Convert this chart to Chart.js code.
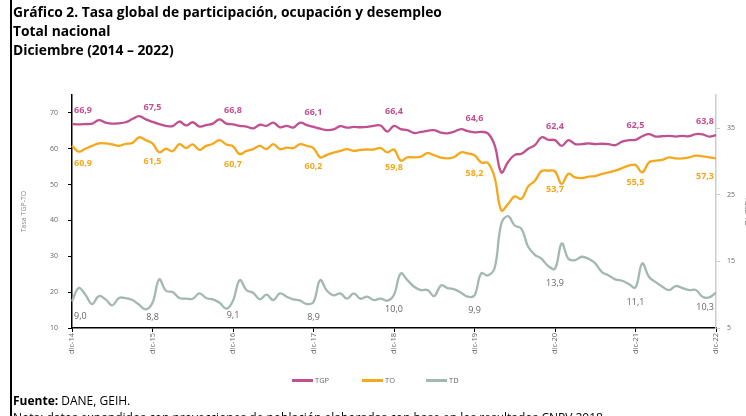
<!DOCTYPE html>
<html>
<head>
<meta charset="utf-8">
<script src="https://cdn.jsdelivr.net/npm/chart.js@4.4.0/dist/chart.umd.min.js"></script>
<style>
  html, body { margin: 0; padding: 0; background: #fff; overflow: hidden; width: 746px; height: 416px; }
  #grafico { position: absolute; left: 0; top: 0; }
  .borde { position: absolute; left: 10px; top: 0; width: 2px; height: 416px; background: #000; }
  .texto { position: absolute; left: 13px; font-family: "Open Sans", sans-serif; color: #000; white-space: nowrap; }
  .titulo { font-weight: 700; font-size: 13.8px; line-height: 16px; }
  .fuente { font-size: 12px; line-height: 14px; }
  .leyenda { position: absolute; top: 375px; font-family: "Open Sans", sans-serif; font-size: 7.5px; color: #666; display: flex; align-items: center; }
  .leyenda span.linea { display: inline-block; width: 21px; height: 3px; margin-right: 2px; }
</style>
</head>
<body>
<canvas id="grafico" width="770" height="416"></canvas>
<div class="borde"></div>
<div class="texto titulo" style="top:4px">Gráfico 2. Tasa global de participación, ocupación y desempleo</div>
<div class="texto titulo" style="top:23px">Total nacional</div>
<div class="texto titulo" style="top:42px">Diciembre (2014 – 2022)</div>
<div class="leyenda" style="left:292px"><span class="linea" style="background:#C0508F"></span>TGP</div>
<div class="leyenda" style="left:362px"><span class="linea" style="background:#F5A81C"></span>TO</div>
<div class="leyenda" style="left:426px"><span class="linea" style="background:#A3B8B1"></span>TD</div>
<div class="texto fuente" style="top:394px"><b>Fuente:</b> DANE, GEIH.</div>
<div class="texto fuente" style="top:411px">Nota: datos expandidos con proyecciones de población elaboradas con base en los resultados CNPV 2018.</div>
<script>
const meses = ["dic", "ene", "feb", "mar", "abr", "may", "jun", "jul", "ago", "sep", "oct", "nov"];

// dic-14 .. dic-22, mensual
const tgp = [66.9,
  66.8, 66.9, 67.0, 68.0, 67.3, 67.0, 67.1, 67.4, 68.3, 69.1, 68.2, 67.5,
  66.9, 66.4, 66.3, 67.6, 66.5, 67.4, 66.2, 66.6, 67.0, 68.2, 67.0, 66.8,
  66.4, 66.2, 65.7, 66.7, 66.4, 67.3, 66.0, 66.4, 65.9, 67.3, 66.6, 66.1,
  65.6, 65.2, 65.4, 66.3, 65.9, 66.1, 66.0, 66.1, 66.4, 66.5, 64.8, 66.4,
  65.5, 65.2, 64.4, 64.7, 65.0, 65.2, 64.5, 64.3, 64.8, 65.5, 64.9, 64.6,
  64.7, 64.3, 61.0, 53.4, 56.3, 58.3, 58.6, 60.0, 61.0, 63.2, 62.5, 62.4,
  60.8, 62.4, 61.3, 61.3, 61.5, 61.3, 61.4, 61.3, 61.0, 62.0, 62.4, 62.5,
  63.5, 64.1, 63.4, 63.5, 63.6, 63.4, 63.6, 63.5, 64.1, 64.0, 63.4, 63.8];

const to = [60.9,
  59.2, 60.0, 60.8, 61.5, 61.5, 61.2, 60.8, 61.4, 61.6, 63.2, 62.4, 61.5,
  59.0, 60.0, 59.3, 61.3, 60.2, 61.2, 59.7, 60.8, 61.4, 62.4, 61.2, 60.7,
  58.5, 59.4, 59.9, 60.8, 59.9, 61.3, 59.9, 60.3, 60.2, 61.3, 60.8, 60.2,
  57.6, 58.3, 58.9, 59.4, 59.9, 59.4, 59.7, 59.8, 59.8, 60.2, 59.0, 59.8,
  56.7, 57.6, 57.6, 57.8, 58.8, 58.2, 57.5, 57.3, 57.7, 59.0, 58.7, 58.2,
  56.2, 56.0, 52.0, 42.8, 44.6, 46.7, 46.0, 49.5, 51.1, 53.8, 53.9, 53.7,
  50.2, 53.0, 52.0, 51.8, 52.2, 52.4, 53.0, 53.4, 53.9, 54.6, 55.3, 55.5,
  53.4, 56.2, 56.7, 56.9, 57.6, 57.3, 57.3, 57.6, 58.1, 57.9, 57.6, 57.3];

const td = [9.0,
  11.0, 10.0, 8.6, 9.8, 9.3, 8.4, 9.5, 9.5, 9.2, 8.5, 7.8, 8.8,
  12.3, 10.6, 10.4, 9.5, 9.4, 9.4, 10.2, 9.5, 9.3, 8.8, 7.9, 9.1,
  12.2, 10.7, 10.3, 9.3, 10.0, 9.2, 10.2, 9.7, 9.3, 9.1, 8.6, 8.9,
  12.2, 10.6, 9.9, 10.2, 9.4, 10.2, 9.4, 9.7, 9.2, 9.4, 9.1, 10.0,
  13.2, 12.2, 11.2, 10.7, 10.7, 9.8, 11.4, 11.0, 10.8, 10.3, 9.7, 9.9,
  13.2, 12.9, 14.0, 20.7, 21.8, 20.4, 19.9, 17.2, 16.0, 15.4, 14.3, 13.9,
  17.7, 15.4, 15.2, 15.7, 15.4, 14.7, 13.4, 12.9, 12.3, 12.1, 11.6, 11.1,
  14.7, 12.7, 11.9, 11.2, 10.7, 11.3, 11.0, 10.7, 10.7, 9.7, 9.6, 10.3];

const ticksIzq = [10, 20, 30, 40, 50, 60, 70];
const ticksDer = [5, 15, 25, 35];

const labels = tgp.map((v, i) => meses[i % 12] + "-" + (14 + Math.ceil(i / 12)));

// etiquetas de diciembre sobre cada serie
const etiquetasDic = {
  id: "etiquetasDic",
  afterDatasetsDraw(chart) {
    const ctx = chart.ctx;
    const area = chart.chartArea;
    chart.data.datasets.forEach((ds, i) => {
      const meta = chart.getDatasetMeta(i);
      ctx.save();
      ctx.font = ds.etiqueta.font;
      ctx.fillStyle = ds.etiqueta.color;
      ctx.textAlign = "center";
      ctx.textBaseline = "middle";
      meta.data.forEach((pt, j) => {
        if (j % 12 !== 0) return;
        const txt = ds.data[j].toFixed(1).replace(".", ",");
        const w = ctx.measureText(txt).width;
        const x = Math.min(Math.max(pt.x, area.left + w / 2 + 2), area.right - w / 2 - 2);
        ctx.fillText(txt, x, pt.y + ds.etiqueta.dy);
      });
      ctx.restore();
    });
  }
};

const ctx = document.getElementById("grafico").getContext("2d");

new Chart(ctx, {
  type: "line",
  data: {
    labels: labels,
    datasets: [
      {
        label: "TGP",
        data: tgp,
        yAxisID: "y",
        borderColor: "#C0508F",
        etiqueta: { font: "bold 9px 'Open Sans'", color: "#C0508F", dy: -14 }
      },
      {
        label: "TO",
        data: to,
        yAxisID: "y",
        borderColor: "#F5A81C",
        etiqueta: { font: "bold 9px 'Open Sans'", color: "#F5A81C", dy: 18 }
      },
      {
        label: "TD",
        data: td,
        yAxisID: "y2",
        borderColor: "#A3B8B1",
        etiqueta: { font: "9px 'Open Sans'", color: "#666", dy: 15 }
      }
    ]
  },
  options: {
    responsive: false,
    animation: false,
    layout: { padding: { left: 18, top: 95, right: 0, bottom: 0 } },
    elements: {
      point: { radius: 0 },
      line: { tension: 0.4, borderWidth: 2.3, fill: false }
    },
    plugins: {
      legend: { display: false },
      tooltip: { enabled: false }
    },
    scales: {
      x: {
        grid: {
          drawOnChartArea: false,
          tickLength: 4,
          color: (c) => (c.index % 12 === 0 ? "#000" : "transparent")
        },
        border: { color: "#000", width: 1.5 },
        ticks: {
          autoSkip: false,
          maxRotation: 90,
          minRotation: 90,
          padding: 1,
          color: "#666",
          font: { family: "Open Sans", size: 7.5 },
          callback: (v, i) => (i % 12 === 0 ? labels[i] : "")
        },
        afterFit: (s) => { s.height = 88; }
      },
      y: {
        position: "left",
        min: 10,
        max: 75,
        grid: { drawOnChartArea: false, tickLength: 4, color: "#000" },
        border: { color: "#000", width: 1.5 },
        ticks: { padding: 10, color: "#666", font: { family: "Open Sans", size: 7 } },
        title: {
          display: true,
          text: "Tasa TGP-TO",
          color: "#888",
          font: { family: "Open Sans", size: 7 },
          padding: { top: 2, bottom: 4 }
        },
        afterBuildTicks: (s) => { s.ticks = ticksIzq.map((v) => ({ value: v })); },
        afterFit: (s) => { s.width = 54; }
      },
      y2: {
        position: "right",
        min: 5,
        max: 40,
        grid: { drawOnChartArea: false, tickLength: 4, color: "#ccc" },
        border: { color: "#ccc", width: 1.5 },
        ticks: { padding: 7, color: "#666", font: { family: "Open Sans", size: 7 } },
        title: {
          display: true,
          text: "Tasa TD",
          color: "#666",
          font: { family: "Open Sans", size: 8 },
          padding: { top: 18, bottom: 0 }
        },
        afterBuildTicks: (s) => { s.ticks = ticksDer.map((v) => ({ value: v })); },
        afterFit: (s) => { s.width = 54; }
      }
    }
  },
  plugins: [etiquetasDic]
});
</script>
</body>
</html>
